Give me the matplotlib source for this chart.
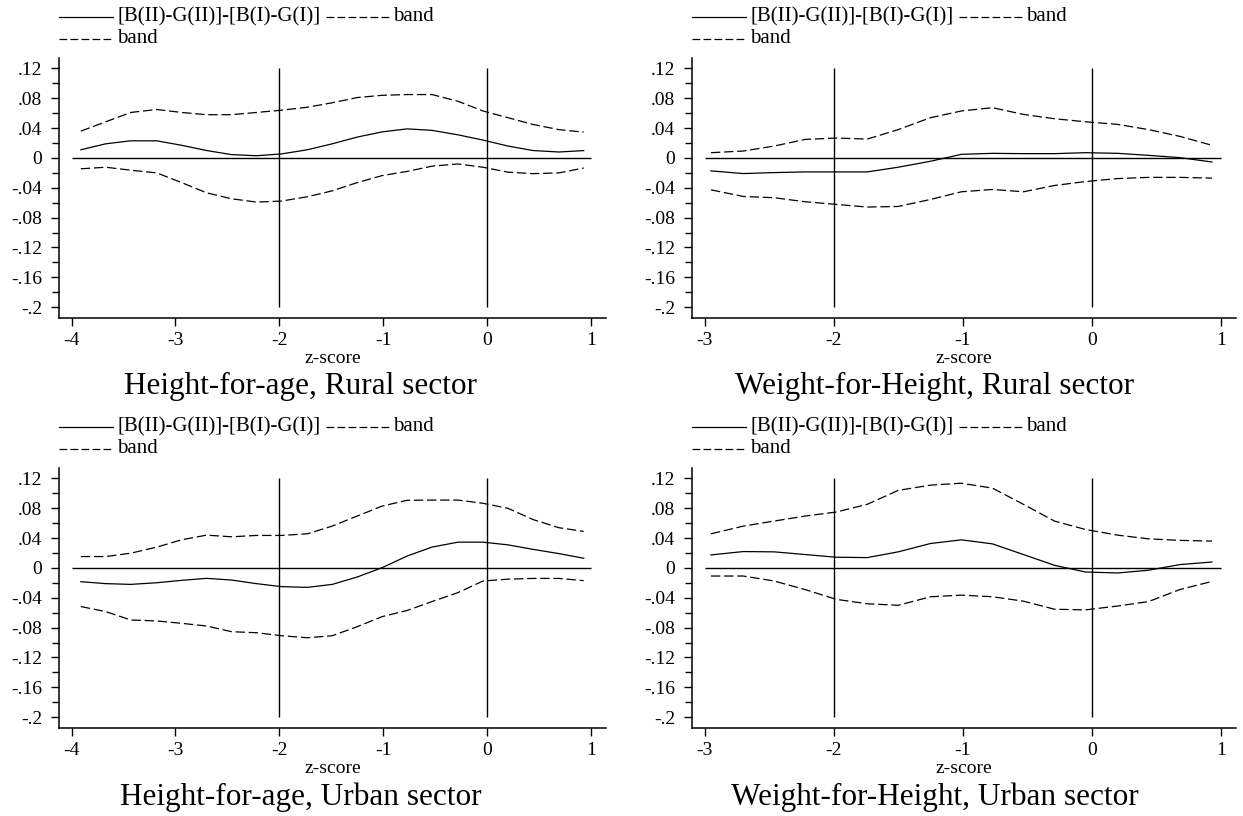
import matplotlib
matplotlib.use("Agg")
import matplotlib.pyplot as plt
from matplotlib.lines import Line2D
from matplotlib.ticker import FixedLocator

plt.rcParams['font.family'] = ['Liberation Serif', 'DejaVu Serif']

# ---- data ----
z_hfa = [-3.91, -3.67, -3.43, -3.18, -2.94, -2.70, -2.46, -2.22, -1.98, -1.73, -1.49,
         -1.25, -1.01, -0.77, -0.53, -0.28, -0.04, 0.20, 0.44, 0.69, 0.93]
z_wfh = [-2.95, -2.70, -2.46, -2.22, -1.98, -1.74, -1.50, -1.25, -1.01, -0.77, -0.53,
         -0.29, -0.05, 0.20, 0.44, 0.68, 0.93]

hfa_rural_diff = [0.011, 0.019, 0.023, 0.023, 0.017, 0.010, 0.0045, 0.003, 0.0054, 0.011, 0.019,
                  0.028, 0.035, 0.039, 0.037, 0.031, 0.024, 0.016, 0.010, 0.008, 0.0099]
hfa_rural_up = [0.036, 0.0485, 0.061, 0.065, 0.061, 0.058, 0.058, 0.061, 0.064, 0.068, 0.074,
                0.081, 0.084, 0.085, 0.085, 0.076, 0.063, 0.054, 0.045, 0.038, 0.0346]
hfa_rural_lo = [-0.0145, -0.0124, -0.0164, -0.020, -0.033, -0.0467, -0.0547, -0.0591, -0.0578, -0.052, -0.044,
                -0.033, -0.0236, -0.018, -0.011, -0.008, -0.0124, -0.019, -0.021, -0.020, -0.0135]

wfh_rural_diff = [-0.0173, -0.0209, -0.0196, -0.0187, -0.0187, -0.0187, -0.0124, -0.0044, 0.0049, 0.0062,
                  0.0058, 0.0058, 0.0071, 0.0062, 0.0035, 0.0005, -0.0054]
wfh_rural_up = [0.0071, 0.0093, 0.016, 0.0249, 0.0267, 0.0253, 0.038, 0.054, 0.063, 0.0674,
                0.0584, 0.0526, 0.0485, 0.045, 0.038, 0.029, 0.017]
wfh_rural_lo = [-0.0427, -0.0516, -0.0533, -0.0587, -0.0622, -0.0658, -0.065, -0.0556, -0.0453, -0.0422,
                -0.0453, -0.0369, -0.0316, -0.0276, -0.026, -0.026, -0.027]

hfa_urban_diff = [-0.0184, -0.021, -0.022, -0.0198, -0.0166, -0.0139, -0.0162, -0.021, -0.025, -0.026, -0.022,
                  -0.0121, 0.0004, 0.016, 0.028, 0.0346, 0.0346, 0.031, 0.025, 0.0193, 0.013]
hfa_urban_up = [0.0153, 0.0153, 0.0198, 0.0279, 0.0378, 0.044, 0.0418, 0.0436, 0.0436, 0.0458, 0.0562,
                0.0696, 0.083, 0.0907, 0.091, 0.091, 0.0867, 0.080, 0.065, 0.054, 0.049]
hfa_urban_lo = [-0.0517, -0.0585, -0.0697, -0.071, -0.0742, -0.0778, -0.0854, -0.0868, -0.0908, -0.0935, -0.0908,
                -0.0787, -0.0652, -0.057, -0.045, -0.033, -0.0175, -0.015, -0.014, -0.014, -0.017]

wfh_urban_diff = [0.0175, 0.022, 0.0216, 0.018, 0.0144, 0.0139, 0.0216, 0.0328, 0.0377, 0.0323,
                  0.018, 0.0036, -0.0054, -0.0067, -0.003, 0.0045, 0.008]
wfh_urban_up = [0.0458, 0.0561, 0.0629, 0.0696, 0.075, 0.0853, 0.104, 0.111, 0.1136, 0.107,
                0.0853, 0.0629, 0.0516, 0.044, 0.039, 0.037, 0.036]
wfh_urban_lo = [-0.0108, -0.0108, -0.0175, -0.029, -0.042, -0.048, -0.050, -0.0386, -0.0364, -0.0386,
                -0.0445, -0.0553, -0.0562, -0.051, -0.045, -0.029, -0.018]

titles = ["Height-for-age, Rural sector", "Weight-for-Height, Rural sector",
          "Height-for-age, Urban sector", "Weight-for-Height, Urban sector"]
legend_labels = ["[B(II)-G(II)]-[B(I)-G(I)]", "band", "band"]
xlabel = "z-score"
y_ticks = [0.12, 0.08, 0.04, 0.0, -0.04, -0.08, -0.12, -0.16, -0.2]
y_ticklabels = [".12", ".08", ".04", "0", "-.04", "-.08", "-.12", "-.16", "-.2"]
y_minor = [0.10, 0.06, 0.02, -0.02, -0.06, -0.10, -0.14, -0.18]
x_ticks_hfa = [-4, -3, -2, -1, 0, 1]
x_ticks_wfh = [-3, -2, -1, 0, 1]
ref_lines = [-2, 0]

panels = [
    (z_hfa, hfa_rural_diff, hfa_rural_up, hfa_rural_lo, x_ticks_hfa),
    (z_wfh, wfh_rural_diff, wfh_rural_up, wfh_rural_lo, x_ticks_wfh),
    (z_hfa, hfa_urban_diff, hfa_urban_up, hfa_urban_lo, x_ticks_hfa),
    (z_wfh, wfh_urban_diff, wfh_urban_up, wfh_urban_lo, x_ticks_wfh),
]

W, H = 1243, 816
fig = plt.figure(figsize=(W / 100, H / 100), dpi=100)

# axes boxes in pixels: (left, top, right, bottom)
boxes = [(59, 58, 606, 318), (692, 58, 1236, 318),
         (59, 468, 606, 728), (692, 468, 1236, 728)]
title_x = [301, 935, 301, 935]
title_base = [394, 394, 805, 805]
DASH = (0, (7.5, 3.0))
LW = 0.9


def fx(px):
    return px / W


def fy(py):
    return 1 - py / H


for i, (z, d, up, lo, xt) in enumerate(panels):
    l, t, r, b = boxes[i]
    ax = fig.add_axes([fx(l), fy(b), (r - l) / W, (b - t) / H])
    unit = (r - l - 27.5) / (xt[-1] - xt[0])
    ax.set_xlim(xt[0] - 12.5 / unit, xt[-1] + 15 / unit)
    ax.set_ylim(-0.2145, 0.134)
    for s in ['top', 'right']:
        ax.spines[s].set_visible(False)
    for s in ['left', 'bottom']:
        ax.spines[s].set_linewidth(1.1)
    ax.hlines(0, xt[0], xt[-1], color='black', lw=1.0)
    ax.vlines(ref_lines, -0.2, 0.12, color='black', lw=1.0)
    ax.plot(z, d, color='black', lw=LW, ls='-')
    ax.plot(z, up, color='black', lw=LW, ls=DASH)
    ax.plot(z, lo, color='black', lw=LW, ls=DASH)
    ax.set_xticks(xt)
    ax.set_xticklabels([str(v) for v in xt])
    ax.yaxis.set_major_locator(FixedLocator(y_ticks))
    ax.set_yticklabels(y_ticklabels)
    ax.yaxis.set_minor_locator(FixedLocator(y_minor))
    ax.tick_params(axis='y', which='major', length=6, width=1, labelsize=14, pad=6, direction='out')
    ax.tick_params(axis='y', which='minor', length=5, width=1, direction='out')
    ax.tick_params(axis='x', which='major', length=6, width=1, labelsize=14, pad=4, direction='out')
    ax.set_xlabel(xlabel, fontsize=14, labelpad=1)
    fig.text(fx(title_x[i]), fy(title_base[i]), titles[i], fontsize=22.5,
             ha='center', va='baseline')

    # legend (drawn as in the original: two rows)
    row1 = t - 41.5
    row2 = t - 19.5
    entries = [
        (l, l + 54, row1, '-', legend_labels[0], l + 58.5),
        (l + 267, l + 330, row1, (0, (6.2, 2.6)), legend_labels[1], l + 334.5),
        (l, l + 55, row2, (0, (6.2, 2.6)), legend_labels[2], l + 58.5),
    ]
    for x_a, x_b, yy, style, lab, tx in entries:
        fig.add_artist(Line2D([fx(x_a), fx(x_b)], [fy(yy), fy(yy)],
                              transform=fig.transFigure, color='black', lw=LW, ls=style))
        fig.text(fx(tx), fy(yy), lab, fontsize=15, ha='left', va='center')

fig.savefig("out.png", dpi=100)
